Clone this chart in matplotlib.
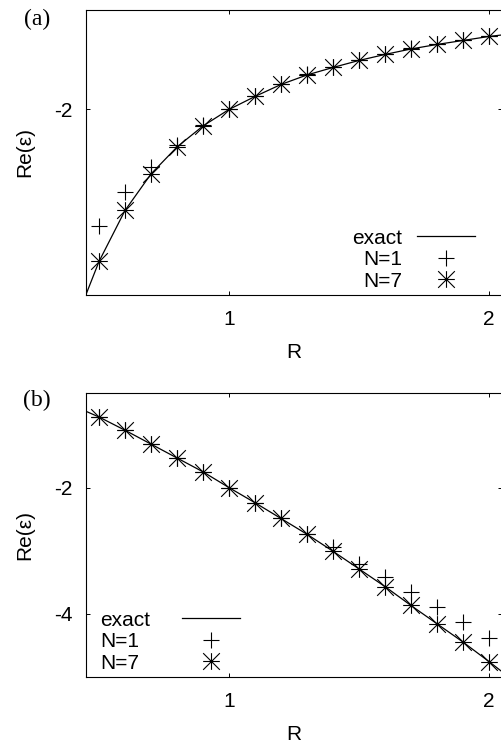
import matplotlib
matplotlib.use("Agg")
import matplotlib.pyplot as plt
from matplotlib.lines import Line2D
from matplotlib.path import Path

plt.rcParams['font.family'] = ['Liberation Sans', 'DejaVu Sans']
plt.rcParams['font.size'] = 15
plt.rcParams['axes.unicode_minus'] = False

# sample radii
R = [0.5, 0.6, 0.7, 0.8, 0.9, 1.0, 1.1, 1.2, 1.3, 1.4, 1.5, 1.6, 1.7, 1.8, 1.9, 2.0]

# panel (a)
a_exact_R = [0.45] + R + [2.05]
a_exact = [-3.85, -3.52, -3.01, -2.645, -2.375, -2.165, -2.0, -1.87, -1.75, -1.655,
           -1.58, -1.51, -1.45, -1.395, -1.35, -1.31, -1.27, -1.255]
a_n1 = [-3.165, -2.83, -2.58, -2.36, -2.16, -1.995, -1.865, -1.745, -1.65,
        -1.575, -1.505, -1.445, -1.39, -1.345, -1.305, -1.265]
a_n7 = [-3.52, -3.01, -2.645, -2.375, -2.165, -2.0, -1.87, -1.75, -1.655,
        -1.58, -1.51, -1.45, -1.395, -1.35, -1.31, -1.27]

# panel (b)
b_exact_R = [0.45] + R + [2.05]
b_exact = [-0.79, -0.88, -1.09, -1.31, -1.53, -1.75, -2.0, -2.24, -2.49, -2.74,
           -3.01, -3.29, -3.57, -3.87, -4.16, -4.45, -4.76, -4.92]
b_n1 = [-0.88, -1.09, -1.31, -1.53, -1.75, -2.0, -2.24, -2.49, -2.73,
        -2.95, -3.21, -3.42, -3.66, -3.89, -4.13, -4.38]
b_n7 = [-0.88, -1.09, -1.31, -1.53, -1.75, -2.0, -2.24, -2.49, -2.74,
        -3.01, -3.29, -3.57, -3.87, -4.16, -4.45, -4.76]

# gnuplot style star: plus + cross
star = Path([(0, -1), (0, 1), (-1, 0), (1, 0), (-1, -1), (1, 1), (-1, 1), (1, -1)],
            [Path.MOVETO, Path.LINETO] * 4)

fig = plt.figure(figsize=(5.01, 7.43), dpi=100)
ax_a = fig.add_axes([0.1717, 0.6030, 0.8303, 0.3836])
ax_b = fig.add_axes([0.1717, 0.0892, 0.8303, 0.3818])


def draw(ax, xe, ye, y1, y7):
    l, = ax.plot(xe, ye, color='black', lw=0.9)
    p, = ax.plot(R, y1, linestyle='none', marker='+', ms=11, mew=0.8, color='black')
    s, = ax.plot(R, y7, linestyle='none', marker=star, ms=12, mew=0.8,
                 color='black', mfc='none')
    ax.set_xlim(0.45, 2.05)
    ax.set_xticks([1, 2])
    ax.tick_params(direction='in', top=True, right=True, length=3.2, width=0.7,
                   labelsize=15)
    ax.tick_params(axis='x', pad=11)
    ax.tick_params(axis='y', pad=9.6)
    for sp in ax.spines.values():
        sp.set_linewidth(0.8)
    ax.set_xlabel('R')
    ax.set_ylabel('Re(ε)')
    ax.yaxis.set_label_coords(-0.125, 0.5)
    return l, p, s


la, pa, sa = draw(ax_a, a_exact_R, a_exact, a_n1, a_n7)
ax_a.set_ylim(-3.855, -1.005)
ax_a.set_yticks([-2])
ax_a.xaxis.set_label_coords(0.5, -0.168)
ax_a.legend([la, pa, sa], ['exact', 'N=1', 'N=7'], loc='lower right',
            bbox_to_anchor=(0.935, 0.0154), frameon=False, markerfirst=False,
            handlelength=2.79, handletextpad=0.72, labelspacing=0.12,
            borderpad=0, borderaxespad=0)

lb, pb, sb = draw(ax_b, b_exact_R, b_exact, b_n1, b_n7)
ax_b.set_ylim(-5, -0.5)
ax_b.set_yticks([-2, -4])
ax_b.xaxis.set_label_coords(0.5, -0.170)
blank = Line2D([], [], linestyle='none')
ax_b.legend([blank, blank, blank, lb, pb, sb], ['exact', 'N=1', 'N=7', ' ', ' ', ' '],
            ncols=2, loc='lower left', bbox_to_anchor=(-0.106, 0.0145), frameon=False,
            handlelength=2.79, handletextpad=0.0, columnspacing=1.55, labelspacing=0.12,
            borderpad=0, borderaxespad=0)

fig.text(0.074, 1 - 19 / 743, '(a)', family='Liberation Serif', fontsize=17,
         ha='center', va='center')
fig.text(0.074, 1 - 400.5 / 743, '(b)', family='Liberation Serif', fontsize=17,
         ha='center', va='center')

fig.savefig('out.png', dpi=100)
